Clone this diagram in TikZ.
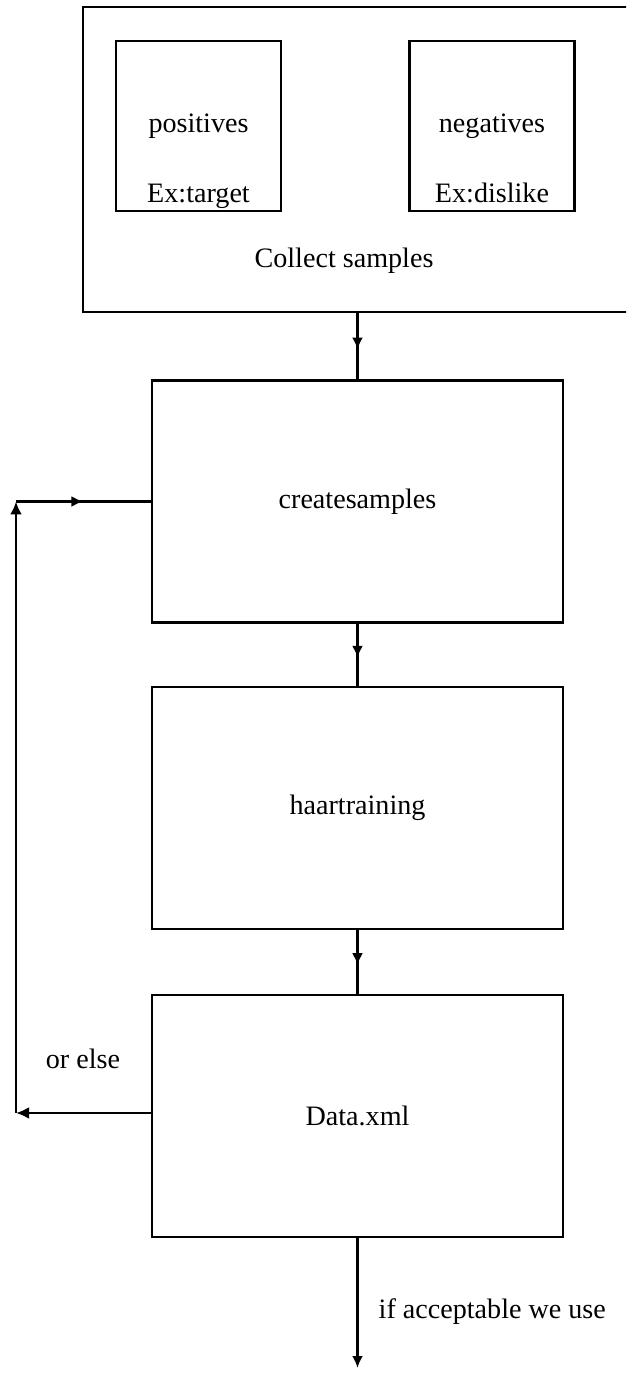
\documentclass[tikz,border=0pt]{standalone}
\usepackage{fontspec}
\setmainfont{Liberation Serif}
\usetikzlibrary{arrows.meta,decorations.markings}

\begin{document}
\begin{tikzpicture}[
    font=\fontsize{16}{19}\selectfont,
    box/.style={draw, line width=1.4pt, minimum width=8.22cm, minimum height=4.84cm},
    smallbox/.style={draw, line width=1.4pt, minimum width=3.3cm, minimum height=3.4cm},
    flow/.style={line width=1.4pt, postaction={decorate}, decoration={markings,
        mark=at position 0.55 with {\arrow{Latex[length=2.4mm,width=2.2mm]}}}},
    loopline/.style={line width=1.7pt, -{Latex[length=2.6mm,width=2.4mm]}}
  ]

    % Page frame
    \clip (0,0) rectangle (12.52,27.48);

    % Collect samples
    \node[draw, line width=1.4pt, minimum width=11.04cm, minimum height=6.1cm] (samplesbox) at (7.18,24.29) {};
    \node[smallbox] (posbox) at (3.97,24.96) {};
    \node[smallbox] (negbox) at (9.84,24.96) {};
    \node (pos) at (posbox) {positives};
    \node[anchor=base] (postarget) at ([yshift=0.2cm]posbox.south) {Ex:target};
    \node (neg) at (negbox) {negatives};
    \node[anchor=base] (negdislike) at ([yshift=0.2cm]negbox.south) {Ex:dislike};
    \node[anchor=base] (collect) at (6.88,22.12) {Collect samples};

    % Steps
    \node[box] (createsamples) at (7.15,17.45) {createsamples};
    \node[box] (haartraining) at (7.15,11.32) {haartraining};
    \node[box] (dataxml) at (7.15,5.16) {Data.xml};

    % Arrows between steps
    \draw[flow] (createsamples.north |- samplesbox.south) -- (createsamples.north);
    \draw[flow] (createsamples.south) -- (haartraining.north);
    \draw[flow] (haartraining.south) -- (dataxml.north);

    % Output
    \coordinate (useit) at (7.15,0.12);
    \draw[line width=1.4pt, -{Latex[length=2.4mm,width=2.2mm]}] (dataxml.south) -- (useit);
    \node[anchor=west] (accept) at (7.45,1.24) {if acceptable we use};

    % Loop back
    \coordinate (loopbot) at (0.32,5.22);
    \coordinate (looptop) at (0.32,17.45);
    \draw[loopline] (dataxml.west |- loopbot) -- (loopbot);
    \draw[loopline] (loopbot) -- (looptop);
    \draw[line width=1.3pt, postaction={decorate}, decoration={markings,
        mark=at position 0.5 with {\arrow{Latex[length=2.4mm,width=2.2mm]}}}] (looptop) -- (createsamples.west);
    \node (orelse) at (1.66,6.3) {or else};

\end{tikzpicture}
\end{document}
